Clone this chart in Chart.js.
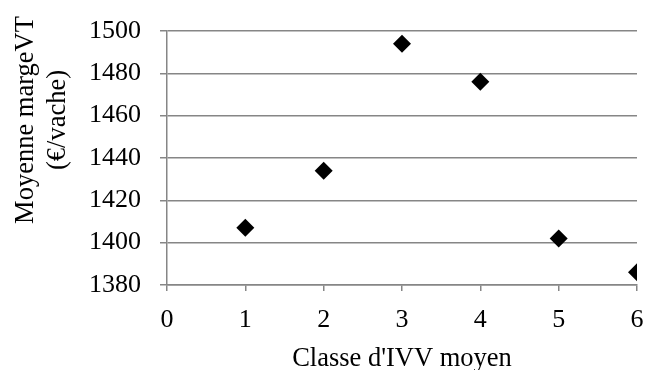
<!DOCTYPE html>
<html>
<head>
<meta charset="utf-8">
<script src="https://cdn.jsdelivr.net/npm/chart.js@4/dist/chart.umd.min.js"></script>
<style>
  html, body { margin: 0; padding: 0; background: #fff; }
  #wrap { width: 646px; height: 370px; }
</style>
</head>
<body>
<div id="wrap"><canvas id="graf"></canvas></div>
<script>
// donnees
const classes = [1, 2, 3, 4, 5, 6];
const margeVT = [1407, 1434, 1494, 1476, 1402, 1386];
const titreX = "Classe d'IVV moyen";
const titreY = ['Moyenne margeVT', '(€/vache)'];

const police = "'Liberation Serif', serif";
const gris = '#868686';

// titres des axes dessines a la main (position comme dans Excel)
const titres = {
  id: 'titres',
  afterDraw(chart) {
    const ctx = chart.ctx;
    const a = chart.chartArea;
    ctx.save();
    ctx.fillStyle = '#000';
    ctx.font = '26.5px ' + police;
    ctx.textAlign = 'center';
    ctx.textBaseline = 'alphabetic';
    ctx.fillText(titreX, (a.left + a.right) / 2, 366);
    ctx.translate(0, 120);
    ctx.rotate(-Math.PI / 2);
    ctx.fillText(titreY[0], 0, 33);
    ctx.fillText(titreY[1], 0, 65);
    ctx.restore();
  }
};

new Chart(document.getElementById('graf'), {
  type: 'scatter',
  data: {
    datasets: [{
      data: classes.map((c, i) => ({x: c, y: margeVT[i]})),
      pointStyle: 'rectRot',
      pointRadius: 9,
      backgroundColor: '#000',
      borderColor: '#000',
      borderWidth: 0,
    }]
  },
  options: {
    responsive: true,
    maintainAspectRatio: false,
    animation: false,
    layout: { padding: { top: 31, right: 9, left: 0, bottom: 0 } },
    plugins: { legend: { display: false }, tooltip: { enabled: false } },
    scales: {
      x: {
        type: 'linear',
        min: 0, max: 6,
        ticks: { stepSize: 1, color: '#000', font: { family: police, size: 26 }, padding: 14,
                 callback: v => String(v) },
        grid: { drawOnChartArea: false, drawTicks: true, tickLength: 6, color: gris, lineWidth: 1.5 },
        border: { color: gris, width: 1.5 },
        afterFit(s) { s.height = 85; s.paddingLeft = 0; s.paddingRight = 0; }
      },
      y: {
        min: 1380, max: 1500,
        ticks: { stepSize: 20, color: '#000', font: { family: police, size: 26 }, padding: 19,
                 callback: v => String(v) },
        grid: { color: gris, lineWidth: 1.5, tickLength: 7 },
        border: { color: gris, width: 1.5 },
        afterFit(s) { s.width = 167; s.paddingTop = 0; s.paddingBottom = 0; }
      }
    }
  },
  plugins: [titres]
});
</script>
</body>
</html>
